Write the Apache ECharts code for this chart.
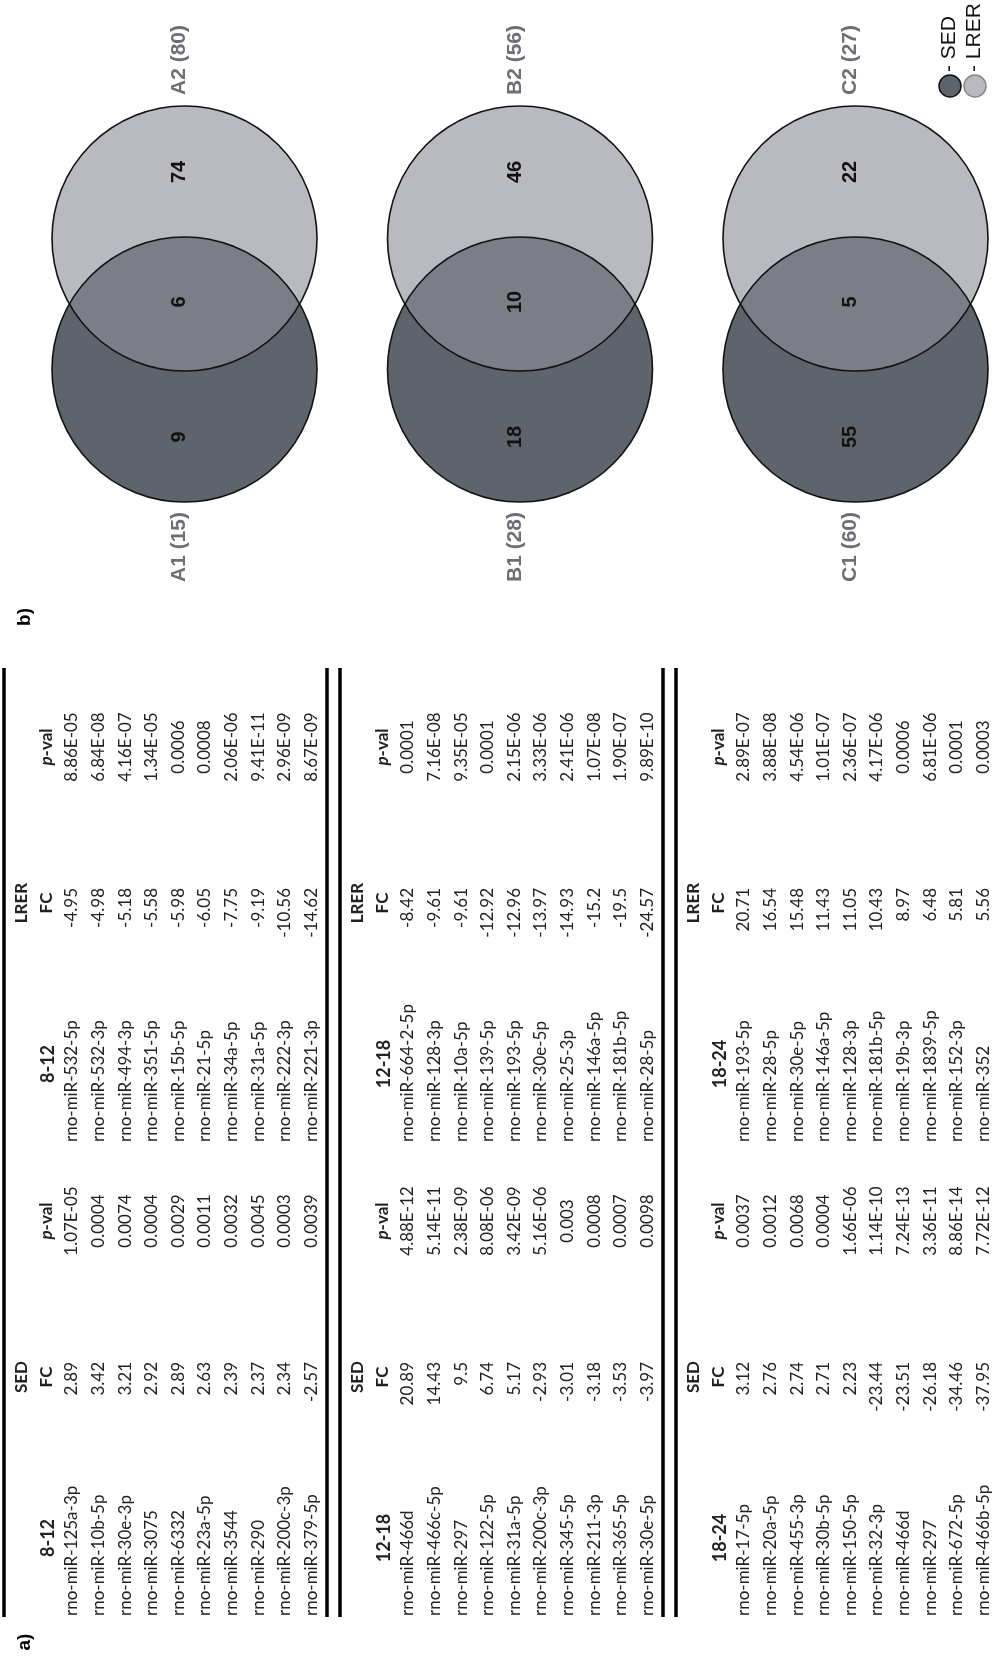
<!DOCTYPE html>
<html>
<head>
<meta charset="utf-8">
<script src="https://cdn.jsdelivr.net/npm/echarts@6/dist/echarts.min.js"></script>
<style>
html,body{margin:0;padding:0;background:#fff;}
#chart{width:996px;height:1658px;}
</style>
</head>
<body>
<div id="chart"></div>
<script>
// ---------------- DATA ----------------
var tableTimes = ['8-12', '12-18', '18-24'];

var t1SedNames = ['rno-miR-125a-3p','rno-miR-10b-5p','rno-miR-30e-3p','rno-miR-3075','rno-miR-6332','rno-miR-23a-5p','rno-miR-3544','rno-miR-290','rno-miR-200c-3p','rno-miR-379-5p'];
var t1SedFC = [2.89, 3.42, 3.21, 2.92, 2.89, 2.63, 2.39, 2.37, 2.34, -2.57];
var t1SedP = ['1.07E-05','0.0004','0.0074','0.0004','0.0029','0.0011','0.0032','0.0045','0.0003','0.0039'];
var t1LrerNames = ['rno-miR-532-5p','rno-miR-532-3p','rno-miR-494-3p','rno-miR-351-5p','rno-miR-15b-5p','rno-miR-21-5p','rno-miR-34a-5p','rno-miR-31a-5p','rno-miR-222-3p','rno-miR-221-3p'];
var t1LrerFC = [-4.95, -4.98, -5.18, -5.58, -5.98, -6.05, -7.75, -9.19, -10.56, -14.62];
var t1LrerP = ['8.86E-05','6.84E-08','4.16E-07','1.34E-05','0.0006','0.0008','2.06E-06','9.41E-11','2.96E-09','8.67E-09'];

var t2SedNames = ['rno-miR-466d','rno-miR-466c-5p','rno-miR-297','rno-miR-122-5p','rno-miR-31a-5p','rno-miR-200c-3p','rno-miR-345-5p','rno-miR-211-3p','rno-miR-365-5p','rno-miR-30e-5p'];
var t2SedFC = [20.89, 14.43, 9.5, 6.74, 5.17, -2.93, -3.01, -3.18, -3.53, -3.97];
var t2SedP = ['4.88E-12','5.14E-11','2.38E-09','8.08E-06','3.42E-09','5.16E-06','0.003','0.0008','0.0007','0.0098'];
var t2LrerNames = ['rno-miR-664-2-5p','rno-miR-128-3p','rno-miR-10a-5p','rno-miR-139-5p','rno-miR-193-5p','rno-miR-30e-5p','rno-miR-25-3p','rno-miR-146a-5p','rno-miR-181b-5p','rno-miR-28-5p'];
var t2LrerFC = [-8.42, -9.61, -9.61, -12.92, -12.96, -13.97, -14.93, -15.2, -19.5, -24.57];
var t2LrerP = ['0.0001','7.16E-08','9.35E-05','0.0001','2.15E-06','3.33E-06','2.41E-06','1.07E-08','1.90E-07','9.89E-10'];

var t3SedNames = ['rno-miR-17-5p','rno-miR-20a-5p','rno-miR-455-3p','rno-miR-30b-5p','rno-miR-150-5p','rno-miR-32-3p','rno-miR-466d','rno-miR-297','rno-miR-672-5p','rno-miR-466b-5p'];
var t3SedFC = [3.12, 2.76, 2.74, 2.71, 2.23, -23.44, -23.51, -26.18, -34.46, -37.95];
var t3SedP = ['0.0037','0.0012','0.0068','0.0004','1.66E-06','1.14E-10','7.24E-13','3.36E-11','8.86E-14','7.72E-12'];
var t3LrerNames = ['rno-miR-193-5p','rno-miR-28-5p','rno-miR-30e-5p','rno-miR-146a-5p','rno-miR-128-3p','rno-miR-181b-5p','rno-miR-19b-3p','rno-miR-1839-5p','rno-miR-152-3p','rno-miR-352'];
var t3LrerFC = [20.71, 16.54, 15.48, 11.43, 11.05, 10.43, 8.97, 6.48, 5.81, 5.56];
var t3LrerP = ['2.89E-07','3.88E-08','4.54E-06','1.01E-07','2.36E-07','4.17E-06','0.0006','6.81E-06','0.0001','0.0003'];

var vennIds = ['A', 'B', 'C'];
var vennSedOnly = [9, 18, 55];
var vennShared = [6, 10, 5];
var vennLrerOnly = [74, 46, 22];
var vennSedTotal = [15, 28, 60];
var vennLrerTotal = [80, 56, 27];
var groupNames = ['SED', 'LRER'];

// ---------------- LAYOUT (original, unrotated orientation: u = across, v = down) ----------------
var W = 996, H = 1658;
var tables = [
  {time: tableTimes[0], sed: [t1SedNames, t1SedFC, t1SedP], lrer: [t1LrerNames, t1LrerFC, t1LrerP]},
  {time: tableTimes[1], sed: [t2SedNames, t2SedFC, t2SedP], lrer: [t2LrerNames, t2LrerFC, t2LrerP]},
  {time: tableTimes[2], sed: [t3SedNames, t3SedFC, t3SedP], lrer: [t3LrerNames, t3LrerFC, t3LrerP]}
];
var TABLE_TOP0 = 4, TABLE_STEP = 336, TABLE_H = 323;
var U_START = 41, U_END = 990, HALF = 474;
var COL = {nameL: 42, time: 120, fcHead: 281, fcRight: 296, pCenter: 437};
var ROW = {h1: 18, h2: 43, time: 44, first: 68, step: 26.6};
var FONT = 'Lato, "Open Sans", "Liberation Sans", sans-serif';
var TXT = '#222222';
var BODY_SIZE = 17;

var children = [];

function txt(u, v, s, opts) {
  opts = opts || {};
  var style = {
    text: s, fill: opts.fill || TXT,
    fontFamily: opts.family || FONT,
    fontSize: opts.size || BODY_SIZE,
    fontWeight: opts.weight || 'normal',
    fontStyle: opts.italic ? 'italic' : 'normal',
    align: opts.align || 'center', verticalAlign: 'middle',
    textAlign: opts.align || 'center', textVerticalAlign: 'middle'
  };
  if (opts.rich) style.rich = opts.rich;
  children.push({type: 'text', x: u, y: v, silent: true, style: style});
}
function hline(v, u1, u2, w, color) {
  children.push({type: 'line', silent: true,
    shape: {x1: u1, y1: v, x2: u2, y2: v},
    style: {stroke: color || '#000', lineWidth: w}});
}
function fmt(n) { return String(n); }

var pvalRich = {
  i: {fontStyle: 'italic', fontWeight: 'bold', fontFamily: FONT, fontSize: BODY_SIZE, fill: TXT},
  b: {fontWeight: 'bold', fontFamily: FONT, fontSize: BODY_SIZE, fill: TXT}
};

tables.forEach(function (t, ti) {
  var top = TABLE_TOP0 + TABLE_STEP * ti;
  hline(top, U_START, U_END, 3.5);
  if (ti < tables.length - 1) hline(top + TABLE_H, U_START, U_END, 3.5);
  [t.sed, t.lrer].forEach(function (half, hi) {
    var off = HALF * hi;
    txt(COL.time + off, top + ROW.time, t.time, {weight: 'bold', size: 18});
    txt(COL.fcHead + off, top + ROW.h1, groupNames[hi], {weight: 'bold'});
    txt(COL.fcHead + off, top + ROW.h2, 'FC', {weight: 'bold'});
    txt(COL.pCenter + off, top + ROW.h2, '{i|p}{b|-val}', {rich: pvalRich});
    var names = half[0], fcs = half[1], ps = half[2];
    for (var r = 0; r < names.length; r++) {
      var v = top + ROW.first + ROW.step * r;
      txt(COL.nameL + off, v, names[r], {align: 'left'});
      txt(COL.fcRight + off, v, fmt(fcs[r]), {align: 'right'});
      txt(COL.pCenter + off, v, ps[r]);
    }
  });
});

// panel labels
txt(16, 25, 'a)', {weight: 'bold', size: 19, family: '"Liberation Sans", Arial, sans-serif', fill: '#000'});
txt(1041, 25, 'b)', {weight: 'bold', size: 19, family: '"Liberation Sans", Arial, sans-serif', fill: '#000'});

// ---------------- VENN ----------------
var VENN = {sedU: 1288.5, lrerU: 1419.5, r: 132.5, v0: 184.5, step: 335.5, textDv: -5,
            labelSedU: 1111, labelLrerU: 1598, numSedU: 1221, numSharedU: 1356, numLrerU: 1486};
var SED_FILL = '#5f636b';
var LRER_FILL = 'rgba(140,144,152,0.62)';
var VFONT = '"Liberation Sans", Arial, Helvetica, sans-serif';
var LABEL_GRAY = '#6c6f76';

vennIds.forEach(function (id, i) {
  var cv = VENN.v0 + VENN.step * i;
  children.push({type: 'circle', silent: true, shape: {cx: VENN.sedU, cy: cv, r: VENN.r},
    style: {fill: SED_FILL, stroke: null}});
  children.push({type: 'circle', silent: true, shape: {cx: VENN.lrerU, cy: cv, r: VENN.r},
    style: {fill: LRER_FILL, stroke: null}});
  children.push({type: 'circle', silent: true, shape: {cx: VENN.sedU, cy: cv, r: VENN.r},
    style: {fill: null, stroke: '#111', lineWidth: 1.6}});
  children.push({type: 'circle', silent: true, shape: {cx: VENN.lrerU, cy: cv, r: VENN.r},
    style: {fill: null, stroke: '#111', lineWidth: 1.6}});
  var tv = cv + VENN.textDv;
  txt(VENN.numSedU, tv, String(vennSedOnly[i]), {family: VFONT, weight: 'bold', size: 20, fill: '#111'});
  txt(VENN.numSharedU, tv, String(vennShared[i]), {family: VFONT, weight: 'bold', size: 20, fill: '#111'});
  txt(VENN.numLrerU, tv, String(vennLrerOnly[i]), {family: VFONT, weight: 'bold', size: 20, fill: '#111'});
  txt(VENN.labelSedU, tv, id + '1 (' + vennSedTotal[i] + ')', {family: VFONT, weight: 'bold', size: 21, fill: LABEL_GRAY});
  txt(VENN.labelLrerU, tv, id + '2 (' + vennLrerTotal[i] + ')', {family: VFONT, weight: 'bold', size: 21, fill: LABEL_GRAY});
});

// legend
var LEG = {u: 1572, vSed: 950, vLrer: 975, r: 11, textU: 1586};
children.push({type: 'circle', silent: true, shape: {cx: LEG.u, cy: LEG.vSed, r: LEG.r},
  style: {fill: SED_FILL, stroke: '#111', lineWidth: 1.5}});
children.push({type: 'circle', silent: true, shape: {cx: LEG.u, cy: LEG.vLrer, r: LEG.r},
  style: {fill: '#b8bac0', stroke: '#858890', lineWidth: 1.5}});
txt(LEG.textU, LEG.vSed - 1, '- ' + groupNames[0], {family: VFONT, size: 21, weight: 'normal', align: 'left', fill: '#111'});
txt(LEG.textU, LEG.vLrer - 1, '- ' + groupNames[1], {family: VFONT, size: 21, weight: 'normal', align: 'left', fill: '#111'});

var chart = echarts.init(document.getElementById('chart'), null, {renderer: 'canvas', width: W, height: H});
chart.setOption({
  backgroundColor: '#ffffff',
  animation: false,
  graphic: [{type: 'group', x: 0, y: H, rotation: Math.PI / 2, children: children}]
});
</script>
</body>
</html>
